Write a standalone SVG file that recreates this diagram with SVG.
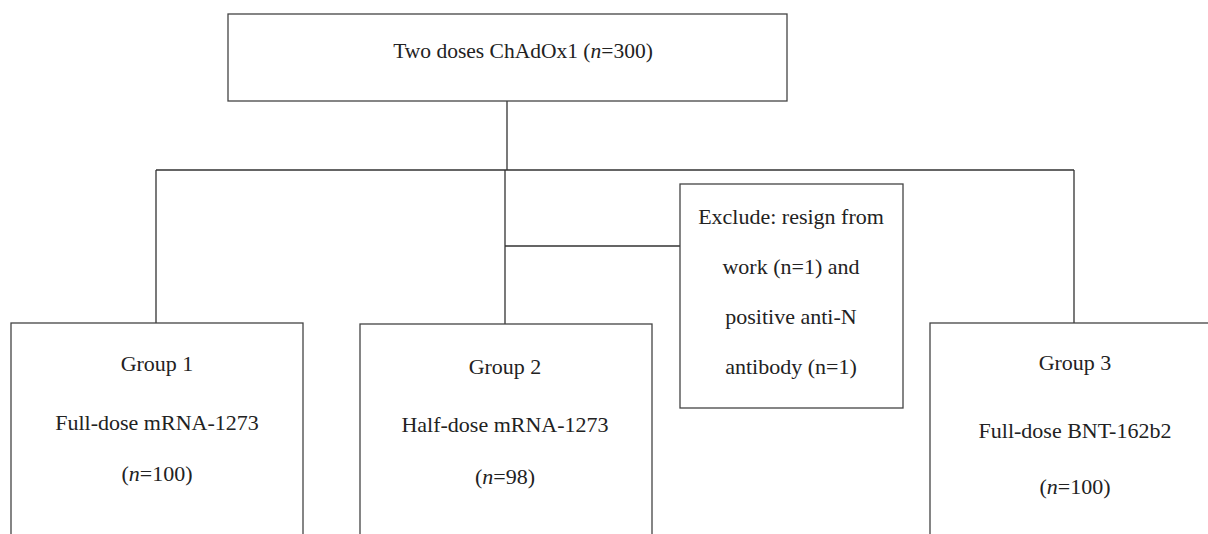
<svg xmlns="http://www.w3.org/2000/svg" width="1208" height="534" viewBox="0 0 1208 534">
<style>
.box{fill:#fff;stroke:#444;stroke-width:1.3}
.ln{fill:none;stroke:#333;stroke-width:1.3}
text{font-family:"Liberation Serif","Times New Roman",serif;font-size:22px;fill:#222;text-anchor:middle}
.i{font-style:italic}
</style>
<rect width="1208" height="534" fill="#fff"/>
<g id="connectors">
<path class="ln" d="M507,101 V170 M156,170 H1074 M156,170 V323 M505,170 V324 M505,246 H680 M1074,170 V323"/>
</g>
<g id="top">
<rect class="box" x="228" y="14" width="559" height="87"/>
<text x="523" y="58" style="font-size:21.5px">Two doses ChAdOx1 (<tspan class="i">n</tspan>=300)</text>
</g>
<g id="exclude">
<rect class="box" x="680" y="184" width="223" height="224"/>
<text x="791" y="224">Exclude: resign from</text>
<text x="791" y="274">work (n=1) and</text>
<text x="791" y="324">positive anti-N</text>
<text x="791" y="374">antibody (n=1)</text>
</g>
<g id="group1">
<rect class="box" x="11" y="323" width="292" height="230"/>
<text x="157" y="371">Group 1</text>
<text x="157" y="430">Full-dose mRNA-1273</text>
<text x="157" y="481">(<tspan class="i">n</tspan>=100)</text>
</g>
<g id="group2">
<rect class="box" x="360" y="324" width="292" height="230"/>
<text x="505" y="374">Group 2</text>
<text x="505" y="432">Half-dose mRNA-1273</text>
<text x="505" y="484">(<tspan class="i">n</tspan>=98)</text>
</g>
<g id="group3">
<rect class="box" x="930" y="323" width="300" height="230"/>
<text x="1075" y="370">Group 3</text>
<text x="1075" y="438">Full-dose BNT-162b2</text>
<text x="1075" y="494">(<tspan class="i">n</tspan>=100)</text>
</g>
</svg>
